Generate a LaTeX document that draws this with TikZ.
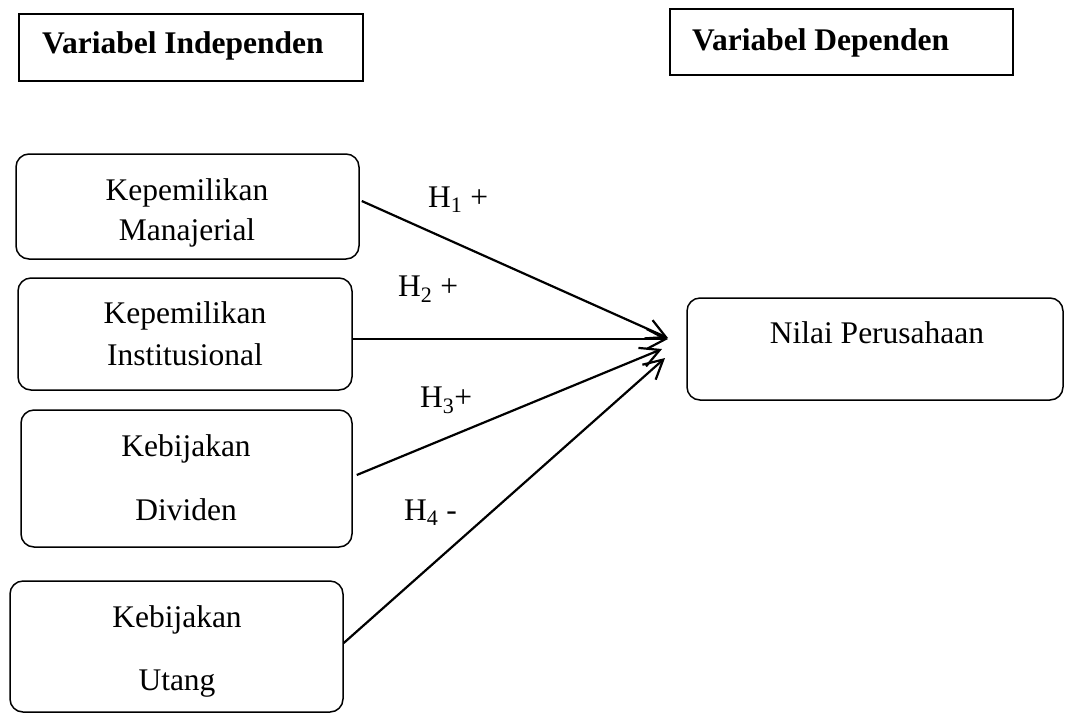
\documentclass[tikz,border=0pt]{standalone}
\usepackage{fontspec}
\setmainfont{Liberation Serif}
\usetikzlibrary{arrows.meta}
\tikzset{
  rbox/.style={draw, line width=1.5pt, rounded corners=13pt, inner sep=0pt},
  hbox/.style={draw, line width=1.6pt, inner sep=0pt},
  txt/.style={anchor=base, inner sep=0pt, font=\fontsize{31.5}{38}\selectfont},
  htxt/.style={anchor=base west, inner sep=0pt, font=\fontsize{31.5}{38}\selectfont\bfseries},
  lbl/.style={anchor=base west, inner sep=0pt, font=\fontsize{31.5}{38}\selectfont},
  conn/.style={line width=2.2pt, -{Straight Barb[length=19pt, width=20pt, line width=2.2pt]}}
}
\begin{document}
\begin{tikzpicture}[x=1pt, y=-1pt]
\useasboundingbox (0,0) rectangle (1067,713);
% header boxes
\node[hbox, minimum width=344, minimum height=67] (hi) at (191,47.5) {};
\node[htxt] (hit) at (42,53) {Variabel Independen};
\node[hbox, minimum width=343, minimum height=66] (hd) at (841.5,42) {};
\node[htxt] (hdt) at (692,50) {Variabel Dependen};
% independent boxes
\node[rbox, minimum width=343, minimum height=105] (km) at (187.5,206.5) {};
\node[txt] (km1) at (187,200) {Kepemilikan};
\node[txt] (km2) at (187,240) {Manajerial};
\node[rbox, minimum width=334, minimum height=112] (ki) at (185,334) {};
\node[txt] (ki1) at (185,323) {Kepemilikan};
\node[txt] (ki2) at (185,365) {Institusional};
\node[rbox, minimum width=331, minimum height=137] (kd) at (186.5,478.5) {};
\node[txt] (kd1) at (186,456) {Kebijakan};
\node[txt] (kd2) at (186,520) {Dividen};
\node[rbox, minimum width=333, minimum height=131] (ku) at (176.5,646.5) {};
\node[txt] (ku1) at (177,627) {Kebijakan};
\node[txt] (ku2) at (177,690) {Utang};
% dependent box
\node[rbox, minimum width=376, minimum height=102] (np) at (875,349) {};
\node[txt] (npt) at (877,343) {Nilai Perusahaan};
% arrow tips
\coordinate (t1) at (668,338);
\coordinate (t2) at (668,339);
\coordinate (t3) at (662,349);
\coordinate (t4) at (665,358);
\draw[conn] ([yshift=5.5pt,xshift=2pt]km.east) -- (t1);
\draw[conn] ([yshift=-5pt]ki.east) -- (t2);
\draw[conn] ([yshift=3.5pt,xshift=4pt]kd.east) -- (t3);
\draw[conn] ([yshift=3.5pt]ku.east) -- (t4);
% labels
\node[lbl] (h1) at (428,207) {H\textsubscript{1} +};
\node[lbl] (h2) at (398,296) {H\textsubscript{2} +};
\node[lbl] (h3) at (420,407) {H\textsubscript{3}+};
\node[lbl] (h4) at (404,520) {H\textsubscript{4} -};
\end{tikzpicture}
\end{document}
